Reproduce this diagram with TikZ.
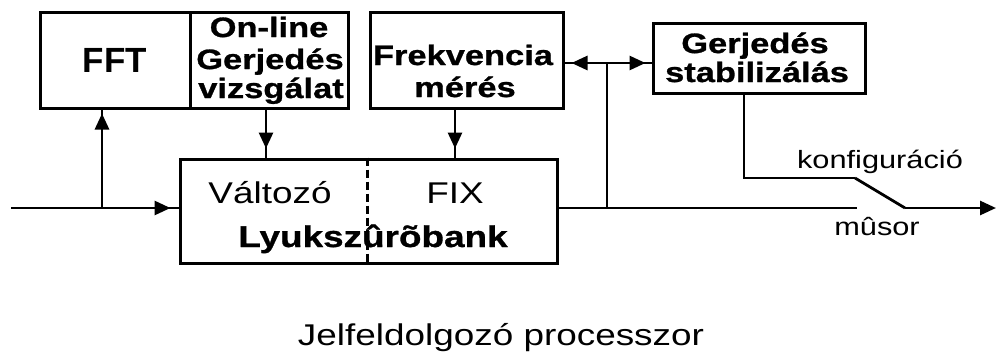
\documentclass[tikz,border=0pt]{standalone}
\usepackage{fontspec}
\setmainfont{Liberation Sans}[FakeStretch=1.23, BoldFeatures={FakeBold=1}]
\newfontfamily\plainsans{Liberation Sans}
\usetikzlibrary{arrows.meta,decorations.markings}
\begin{document}
\begin{tikzpicture}[x=1pt,y=-1pt,
  box/.style={draw, line width=3pt, inner sep=0pt},
  wire/.style={line width=2.8pt},
  tipat/.style={postaction={decorate},
    decoration={markings, mark=at position #1 with {\arrow{Triangle[length=16pt,width=14pt]}}}},
  txt/.style={inner sep=0pt, anchor=base},
  boxfont/.style={font=\bfseries\fontsize{28}{31}\selectfont},
  bodyfont/.style={font=\fontsize{30}{33}\selectfont},
  smallfont/.style={font=\fontsize{25}{28}\selectfont},
]
\useasboundingbox (0,0) rectangle (997,354);

% blocks
\node[box, minimum width=150pt, minimum height=96pt] (fft)  at (115,60) {};
\node[box, minimum width=158pt, minimum height=96pt] (onl)  at (269,60) {};
\node[box, minimum width=193pt, minimum height=96pt] (freq) at (466.5,60) {};
\node[box, minimum width=212pt, minimum height=70pt] (stab) at (759,58) {};
\node[box, minimum width=377pt, minimum height=104pt] (bank) at (368.5,211) {};
\draw[line width=3pt, dash pattern=on 8pt off 4pt]
  ([xshift=-1.5pt]bank.north) -- ([xshift=-1.5pt]bank.south);

% block labels
\node[txt, font=\plainsans\bfseries\fontsize{35}{38}\selectfont] (tfft) at (115,72) {FFT};
\node[txt, boxfont] (tonl1) at (269,37) {On-line};
\node[txt, boxfont] (tonl2) at (270,69) {Gerjedés};
\node[txt, boxfont] (tonl3) at (271,98) {vizsgálat};
\node[txt, boxfont] (tfreq1) at (463,65) {Frekvencia};
\node[txt, boxfont] (tfreq2) at (465,97) {mérés};
\node[txt, boxfont] (tstab1) at (755,53) {Gerjedés};
\node[txt, boxfont] (tstab2) at (757,82) {stabilizálás};
\node[txt, bodyfont] (tvar) at (270,203) {Változó};
\node[txt, bodyfont] (tfix) at (455,203) {FIX};
\node[txt, font=\bfseries\fontsize{30}{33}\selectfont] (tbank) at (373,247) {Lyukszûrõbank};

% signal path
\coordinate (in)  at (11,208);
\coordinate (j1)  at (102,208);
\coordinate (tap) at (607,63);
\coordinate (sw0) at (855,178);
\coordinate (sw1) at (857,208);
\coordinate (sw2) at (905,208);
\coordinate (out) at (996,208);

\draw[wire, tipat=-8pt] (in) -- (in -| bank.west);
\draw[wire, tipat=-4pt] (j1) -- (j1 |- fft.south);
\draw[wire, tipat=-9pt] ([xshift=-3pt]onl.south) -- ([xshift=-3pt]onl.south |- bank.north);
\draw[wire, tipat=-9pt] ([xshift=-11.5pt]freq.south) -- ([xshift=-11.5pt]freq.south |- bank.north);
\draw[wire, tipat=-7pt] (tap) -- (tap -| freq.east);
\draw[wire, tipat=-6pt] (tap) -- (tap -| stab.west);
\draw[wire] (tap) -- (tap |- in);
\draw[wire] (in -| bank.east) -- (sw1);
\draw[wire] ([xshift=-15pt]stab.south) |- (sw0);
\draw[wire] (sw0) -- (sw2);
\draw[wire, -{Triangle[length=16pt,width=14pt]}] (sw2) -- (out);

\node[txt, smallfont] (tkonf) at (880,168) {konfiguráció};
\node[txt, smallfont] (tmusor) at (877,235) {mûsor};

\node[txt, bodyfont] (tproc) at (501,345) {Jelfeldolgozó processzor};
\end{tikzpicture}
\end{document}
